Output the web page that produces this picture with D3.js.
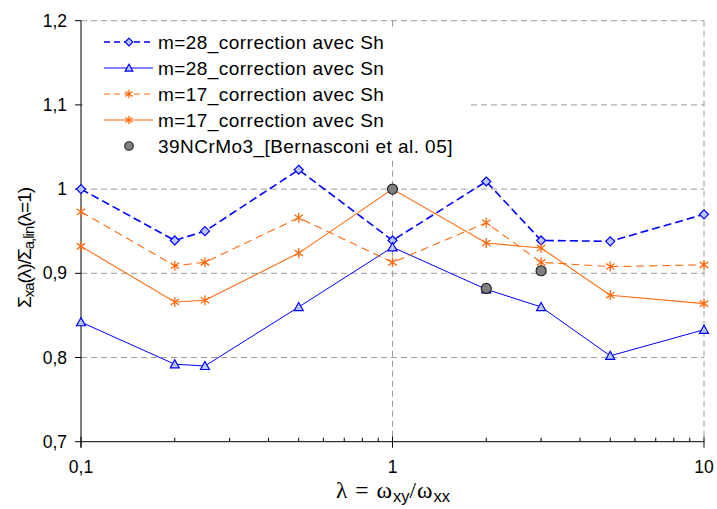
<!DOCTYPE html>
<html><head><meta charset="utf-8">
<script src="https://cdn.jsdelivr.net/npm/d3@7"></script>
<style>body{margin:0;background:#fff}svg{display:block}text{font-family:"Liberation Sans",Arial,sans-serif}</style>
</head><body><svg id="c" width="717" height="509"></svg>
<script>
const lambdas = [0.1, 0.2, 0.25, 0.5, 1, 2, 3, 5, 10];
const m28Sh = [1.000, 0.939, 0.950, 1.023, 0.939, 1.009, 0.939, 0.938, 0.970];
const m28Sn = [0.842, 0.792, 0.790, 0.860, 0.931, 0.881, 0.860, 0.802, 0.833];
const m17Sh = [0.973, 0.909, 0.913, 0.966, 0.913, 0.960, 0.913, 0.908, 0.910];
const m17Sn = [0.932, 0.866, 0.868, 0.924, 1.000, 0.936, 0.930, 0.874, 0.864];
const expLambdas = [1, 2, 3];
const expVals = [1.000, 0.882, 0.903];
const seriesNames = ["m=28_correction avec Sh","m=28_correction avec Sn","m=17_correction avec Sh","m=17_correction avec Sn","39NCrMo3_[Bernasconi et al. 05]"];
const yTicks = [0.7, 0.8, 0.9, 1.0, 1.1, 1.2];
const yTickLabels = ["0,7","0,8","0,9","1","1,1","1,2"];
const xTicks = [0.1, 1, 10];
const xTickLabels = ["0,1","1","10"];

const svg = d3.select("#c");
const L = 81, R = 704, T = 20.7, B = 441.7;
const x = d3.scaleLog().domain([0.1, 10]).range([L, R]);
const y = d3.scaleLinear().domain([0.7, 1.2]).range([B, T]);
const grid = "#9a9a9a";

// horizontal gridlines
svg.append("g").selectAll("line").data(yTicks.filter(v => v > 0.75)).join("line")
  .attr("x1", L).attr("x2", R).attr("y1", d => y(d)).attr("y2", d => y(d))
  .attr("stroke", grid).attr("stroke-width", 1).attr("stroke-dasharray", "6,4");
// vertical gridlines
svg.append("g").selectAll("line").data([1, 10]).join("line")
  .attr("x1", d => x(d)).attr("x2", d => x(d)).attr("y1", T).attr("y2", B)
  .attr("stroke", grid).attr("stroke-width", 1).attr("stroke-dasharray", "6,4");

// legend background
svg.append("rect").attr("x", 83).attr("y", 27).attr("width", 387).attr("height", 133).attr("fill", "#fff");

// axes
const minor = [];
[0.1, 1].forEach(b => { for (let k = 2; k <= 9; k++) minor.push(b * k); });
svg.append("g").selectAll("line").data(minor).join("line")
  .attr("x1", d => x(d)).attr("x2", d => x(d)).attr("y1", B - 4).attr("y2", B)
  .attr("stroke", "#000").attr("stroke-width", 1);
svg.append("g").selectAll("line").data(xTicks).join("line")
  .attr("x1", d => x(d)).attr("x2", d => x(d)).attr("y1", B - 5).attr("y2", B + 6)
  .attr("stroke", "#000").attr("stroke-width", 1);
svg.append("line").attr("x1", L).attr("x2", R).attr("y1", B).attr("y2", B).attr("stroke", "#000");
svg.append("line").attr("x1", L).attr("x2", L).attr("y1", T).attr("y2", B + 6).attr("stroke", "#000");
svg.append("g").selectAll("line").data(yTicks).join("line")
  .attr("x1", L - 6).attr("x2", L).attr("y1", d => y(d)).attr("y2", d => y(d)).attr("stroke", "#000");

svg.append("g").selectAll("text").data(yTicks).join("text")
  .attr("x", 67).attr("y", d => y(d) + 6).attr("text-anchor", "end")
  .attr("font-size", 17.5).text((d, i) => yTickLabels[i]);
svg.append("g").selectAll("text").data(xTicks).join("text")
  .attr("x", d => x(d)).attr("y", 473).attr("text-anchor", "middle")
  .attr("font-size", 17.5).text((d, i) => xTickLabels[i]);

// axis titles
const xt = svg.append("text").attr("x", 393).attr("y", 498).attr("text-anchor", "middle")
  .attr("font-size", 23.5).attr("letter-spacing", 1).style("font-family", "'Liberation Serif','DejaVu Serif',serif");
xt.append("tspan").text("λ = ω");
xt.append("tspan").attr("font-size", 16.5).attr("dy", 4).attr("letter-spacing", 0).style("font-family", "'Liberation Sans',Arial").text("xy");
xt.append("tspan").attr("dy", -4).text("/ω");
xt.append("tspan").attr("font-size", 16.5).attr("dy", 4).attr("letter-spacing", 0).style("font-family", "'Liberation Sans',Arial").text("xx");

const yt = svg.append("text").attr("transform", "translate(31,248) rotate(-90)").attr("text-anchor", "middle")
  .attr("font-size", 19).attr("letter-spacing", -1);
yt.append("tspan").text("Σ");
yt.append("tspan").attr("font-size", 15).attr("dy", 3).text("xa");
yt.append("tspan").attr("dy", -3).text("(λ)/Σ");
yt.append("tspan").attr("font-size", 15).attr("dy", 3).text("a,lin");
yt.append("tspan").attr("dy", -3).text("(λ=1)");

// markers
const diamond = s => `M0,${-s}L${s},0L0,${s}L${-s},0Z`;
const tri = s => `M0,${-s}L${s},${s*0.8}L${-s},${s*0.8}Z`;
const star = s => `M0,${-s}V${s}M${-s*0.85},${-s*0.6}L${s*0.85},${s*0.6}M${-s*0.85},${s*0.6}L${s*0.85},${-s*0.6}`;

const blue = "#0000ff", orange = "#ff6a10";
const series = [
  {vals: m28Sh, color: blue, width: 1.6, dash: "8,4", mk: "diamond"},
  {vals: m28Sn, color: blue, width: 1, dash: null, mk: "tri"},
  {vals: m17Sh, color: orange, width: 1.1, dash: "8,5", mk: "star"},
  {vals: m17Sn, color: orange, width: 1.1, dash: null, mk: "star"}
];
const line = d3.line().x(d => x(d[0])).y(d => y(d[1]));
function drawMarker(g, type, color, k = 1) {
  if (type === "diamond") g.append("path").attr("d", diamond(4.5 * k)).attr("fill", "#b8c8ff").attr("stroke", color).attr("stroke-width", 1.2);
  else if (type === "tri") g.append("path").attr("d", tri(4.5 * k)).attr("fill", "#b8c8ff").attr("stroke", color).attr("stroke-width", 1.2);
  else if (type === "star") g.append("path").attr("d", star(5 * k)).attr("fill", "none").attr("stroke", color).attr("stroke-width", 1.3);
  else if (type === "circle") g.append("circle").attr("r", 5 * k).attr("fill", "#808080").attr("stroke", "#222").attr("stroke-width", 1.2);
}
series.forEach(s => {
  const pts = lambdas.map((l, i) => [l, s.vals[i]]);
  svg.append("path").attr("d", line(pts)).attr("fill", "none").attr("stroke", s.color)
    .attr("stroke-width", s.width).attr("stroke-dasharray", s.dash);
  pts.forEach(p => drawMarker(svg.append("g").attr("transform", `translate(${x(p[0])},${y(p[1])})`), s.mk, s.color));
});
expLambdas.forEach((l, i) => drawMarker(svg.append("g").attr("transform", `translate(${x(l)},${y(expVals[i])})`), "circle"));

// legend
const rowsY = [42, 68, 94, 120, 146];
const legSpecs = series.concat([{color: null, mk: "circle"}]);
seriesNames.forEach((name, i) => {
  const s = legSpecs[i];
  const g = svg.append("g");
  if (s.color) g.append("line").attr("x1", 104).attr("x2", 153).attr("y1", rowsY[i]).attr("y2", rowsY[i])
    .attr("stroke", s.color).attr("stroke-width", s.width).attr("stroke-dasharray", s.dash ? "6,4" : null);
  drawMarker(g.append("g").attr("transform", `translate(129,${rowsY[i]})`), s.mk, s.color, 0.85);
  g.append("text").attr("x", 158).attr("y", rowsY[i] + 7).attr("font-size", 19)
    .attr("letter-spacing", 0.45).text(name);
});
</script></body></html>
